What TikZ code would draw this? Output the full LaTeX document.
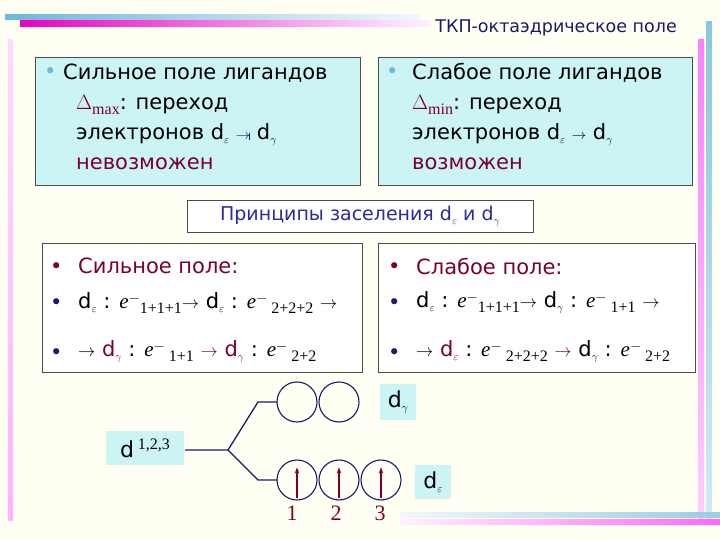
\documentclass[tikz,border=0pt]{standalone}
\usepackage{fontspec}
\setmainfont{DejaVu Sans}
\newfontfamily\serif{Liberation Serif}
\definecolor{cbg}{HTML}{FFFFF4}
\definecolor{ccy}{HTML}{CCF4F4}
\definecolor{cred}{HTML}{7A0030}
\definecolor{cnavy}{HTML}{1A1A6A}
\definecolor{cblue}{HTML}{2A2AA0}
\definecolor{cbul}{HTML}{6FB7D7}
\newcommand{\eps}{\raisebox{-4pt}{\fontsize{11}{12}\selectfont$\varepsilon$}}
\newcommand{\gam}{\raisebox{-4pt}{\fontsize{11}{12}\selectfont$\gamma$}}
\newcommand{\el}{{\serif\itshape e}\raisebox{6pt}{\fontsize{14}{14}\selectfont$-$}}
\newcommand{\ssub}[1]{\raisebox{-5pt}{\serif\fontsize{16}{18}\selectfont #1}}
\newcommand{\ar}{{\fontsize{18}{18}\selectfont$\rightarrow$}}
\tikzset{
 box/.style={draw=black!70,line width=0.8pt,anchor=north west,inner sep=0},
 txt/.style={anchor=west,font=\fontsize{21}{24}\selectfont,inner sep=0},
 orb/.style={circle,draw=cnavy,line width=1.1pt,minimum size=40pt,inner sep=0},
 lev/.style={draw=cnavy,line width=1.3pt},
 spin/.style={draw=cred,line width=1.2pt,-{Stealth[length=6pt]}},
}
\usetikzlibrary{arrows.meta}
\begin{document}
\begin{tikzpicture}[x=1pt,y=-1pt]
\useasboundingbox (0,0) rectangle (720,540);
\fill[cbg] (0,0) rectangle (720,540);
% decorative bars
\shade[left color=cbul,right color=cbul!10] (5,15) rectangle (420,20);
\shade[left color=magenta!70!purple,right color=magenta!5] (20,21) rectangle (430,27);
\shade[top color=magenta!50,bottom color=magenta!20] (698,40) rectangle (704,520);
\shade[top color=cbul!80,bottom color=cbul!30] (706,22) rectangle (712,520);
\shade[top color=magenta!15,bottom color=magenta!30] (8,40) rectangle (13,520);
\shade[left color=cbul!10,right color=cbul!70] (400,512) rectangle (720,517);
\shade[left color=magenta!5,right color=magenta!60] (400,519) rectangle (720,524);
\node[anchor=east,font=\fontsize{17.5}{20}\selectfont,text=cnavy,inner sep=0] (title) at (677,28) {ТКП-октаэдрическое поле};
% top boxes
\node[box,fill=ccy,minimum width=325pt,minimum height=128pt] (b1) at (35,57) {};
\node[box,fill=ccy,minimum width=314pt,minimum height=128pt] (b2) at (378,57) {};
\node[txt,text=cbul] (b1a) at (44,73) {•};
\node[txt] (b1t) at (63,73) {Сильное поле лигандов};
\node[txt] (b1b) at (76,105) {\textcolor{cred}{\serif\fontsize{22}{24}\selectfont$\Delta$\ssub{max}}: переход};
\node[txt] (b1c) at (76,135) {электронов d\eps\ \textcolor{cnavy}{\fontsize{14}{14}\selectfont$\rightarrow$\hspace{-1pt}\rule{1pt}{7pt}} d\gam};
\node[txt,text=cred] (b1d) at (76,164) {невозможен};
\node[txt,text=cbul] (b2a) at (386,73) {•};
\node[txt] (b2t) at (412,73) {Слабое поле лигандов};
\node[txt] (b2b) at (412,105) {\textcolor{cred}{\serif\fontsize{22}{24}\selectfont$\Delta$\ssub{min}}: переход};
\node[txt] (b2c) at (412,135) {электронов d\eps\ {\fontsize{14}{14}\selectfont$\rightarrow$} d\gam};
\node[txt,text=cred] (b2d) at (412,164) {возможен};
% principle box
\node[box,fill=white,minimum width=346pt,minimum height=32pt] (b3) at (187,200) {};
\node[font=\fontsize{19}{22}\selectfont,text=cblue,inner sep=0] (b3t) at (360,216) {Принципы заселения d\eps\ и d\gam};
% lower boxes
\node[box,fill=white,minimum width=320pt,minimum height=129pt] (b4) at (42,243) {};
\node[box,fill=white,minimum width=317pt,minimum height=129pt] (b5) at (378,243) {};
\node[txt,text=cred] (l1a) at (50,268) {•};
\node[txt,text=cred] (l1t) at (78,266) {Сильное поле:};
\node[txt,text=cnavy] (l2a) at (50,304) {•};
\node[txt] (l2t) at (78,303) {d\eps\ : \el\ssub{1+1+1}\ar\ d\eps\ : \el\ssub{\ 2+2+2}\ \ar};
\node[txt,text=cnavy] (l3a) at (50,354) {•};
\node[txt] (l3t) at (78,352) {\ar\ \textcolor{cred}{d\gam} : \el\ssub{\ 1+1} \textcolor{cred}{\ar\ d\gam} : \el\ssub{\ 2+2}};
\node[txt,text=cred] (r1a) at (388,268) {•};
\node[txt,text=cred] (r1t) at (416,266) {Слабое поле:};
\node[txt,text=cnavy] (r2a) at (388,304) {•};
\node[txt] (r2t) at (416,303) {d\eps\ : \el\ssub{1+1+1}\ar\ d\gam\ : \el\ssub{\ 1+1}\ \ar};
\node[txt,text=cnavy] (r3a) at (388,354) {•};
\node[txt] (r3t) at (416,352) {\ar\ \textcolor{cred}{d\eps} : \el\ssub{\ 2+2+2} \textcolor{cred}{\ar} d\gam\ : \el\ssub{\ 2+2}};
% splitting diagram
\node[fill=ccy,minimum width=78pt,minimum height=34pt,inner sep=0,font=\fontsize{22}{24}\selectfont] (d) at (145,448) {d\,\raisebox{8pt}{\serif\fontsize{16}{18}\selectfont 1,2,3}};
\coordinate (s) at (228,450);
\coordinate (u1) at (258,402);\coordinate (u2) at (277,402);
\coordinate (w1) at (258,480);\coordinate (w2) at (277,480);
\draw[lev] (185,450) -- (s) -- (u1) -- (u2);
\draw[lev] (s) -- (w1) -- (w2);
\node[orb] (g1) at (297,402) {};
\node[orb] (g2) at (339,402) {};
\node[orb] (e1) at (297,480) {};
\node[orb] (e2) at (339,480) {};
\node[orb] (e3) at (381,480) {};
\foreach \c in {e1,e2,e3}{\draw[spin] ([yshift=3pt]\c.south) -- ([yshift=-8pt]\c.north);}
\node[fill=ccy,minimum width=36pt,minimum height=36pt,inner sep=0,font=\fontsize{22}{24}\selectfont] (lg) at (398,402) {d\gam};
\node[fill=ccy,minimum width=36pt,minimum height=34pt,inner sep=0,font=\fontsize{22}{24}\selectfont] (le) at (433,482) {d\eps};
\foreach \n/\x in {1/292,2/336,3/380}{\node[text=cred,font=\serif\fontsize{22}{24}\selectfont,inner sep=0] (n\n) at (\x,513) {\n};}
\end{tikzpicture}
\end{document}
